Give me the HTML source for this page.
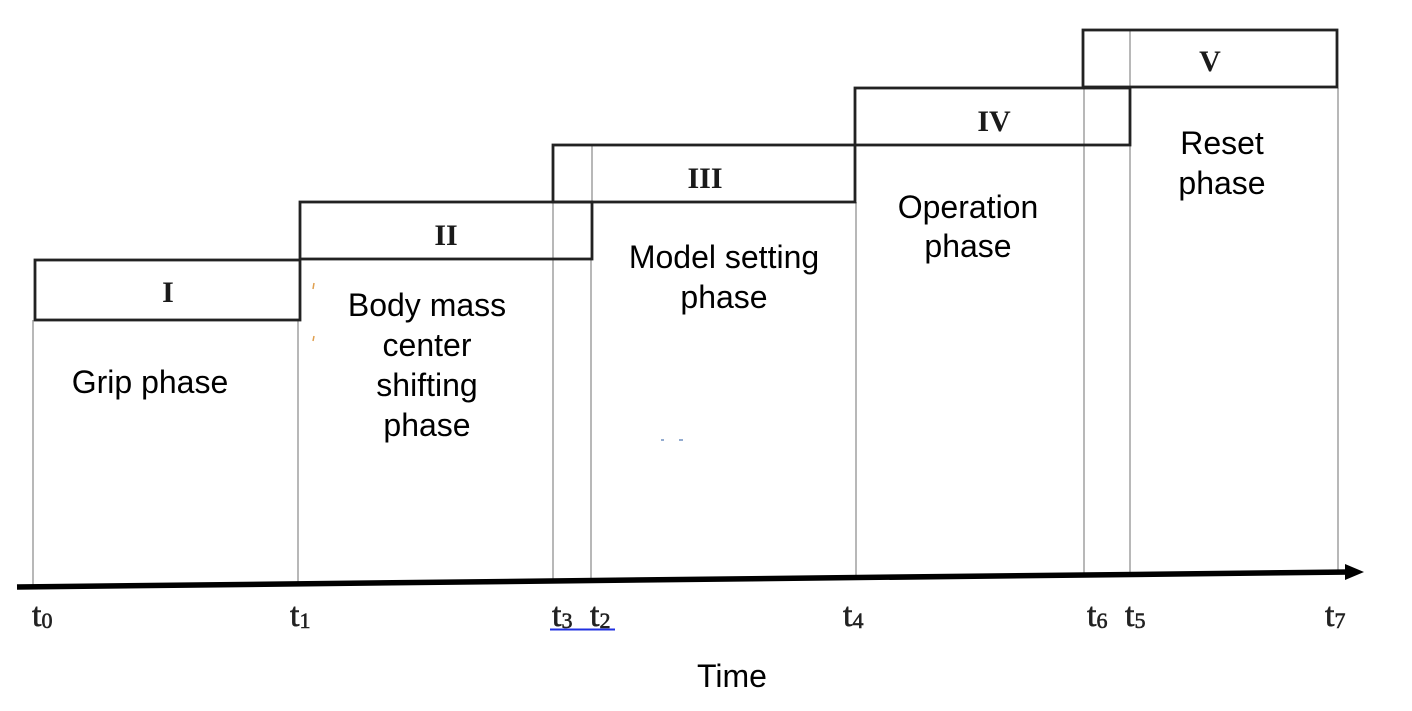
<!DOCTYPE html>
<html>
<head>
<meta charset="utf-8">
<style>
  html,body{margin:0;padding:0;background:#fff;}
  svg{display:block;}
  .sans{font-family:"Liberation Sans",Arial,sans-serif;font-size:32px;fill:#000;}
  .rom{font-family:"Liberation Serif","Times New Roman",serif;font-size:30px;font-weight:bold;fill:#1a1a1a;}
  .tl{font-family:"Liberation Serif","Times New Roman",serif;font-size:34px;fill:#222;stroke:#222;stroke-width:0.6;}
  .sub{font-size:22px;}
</style>
</head>
<body>
<svg width="1412" height="711" viewBox="0 0 1412 711" xmlns="http://www.w3.org/2000/svg">
  <rect width="1412" height="711" fill="#fff"/>

  <!-- grey vertical guide lines -->
  <g stroke="#b8b8b8" stroke-width="2" fill="none">
    <line x1="33" y1="320" x2="33" y2="587"/>
    <line x1="298" y1="320" x2="298" y2="584"/>
    <line x1="553" y1="202" x2="553" y2="579"/>
    <line x1="592" y1="145" x2="592" y2="202"/>
    <line x1="591" y1="259" x2="591" y2="578"/>
    <line x1="856" y1="202" x2="856" y2="576"/>
    <line x1="1084" y1="88" x2="1084" y2="574"/>
    <line x1="1130" y1="30" x2="1130" y2="88"/>
    <line x1="1130" y1="145" x2="1130" y2="573"/>
    <line x1="1338" y1="88" x2="1338" y2="572"/>
  </g>

  <!-- phase boxes -->
  <g stroke="#222" stroke-width="2.8" fill="none">
    <rect x="35" y="260" width="265" height="60"/>
    <rect x="300" y="202" width="292" height="57"/>
    <rect x="553" y="145" width="302" height="57"/>
    <rect x="855" y="88" width="275" height="57"/>
    <rect x="1083" y="30" width="254" height="57"/>
  </g>

  <!-- roman numerals -->
  <text class="rom" x="168" y="302" text-anchor="middle">I</text>
  <text class="rom" x="446" y="245" text-anchor="middle">II</text>
  <text class="rom" x="705" y="188" text-anchor="middle">III</text>
  <text class="rom" x="994" y="131" text-anchor="middle">IV</text>
  <text class="rom" x="1210" y="71" text-anchor="middle">V</text>

  <!-- phase labels -->
  <text class="sans" x="150" y="393" text-anchor="middle">Grip phase</text>
  <text class="sans" x="427" y="316" text-anchor="middle">Body mass</text>
  <text class="sans" x="427" y="356" text-anchor="middle">center</text>
  <text class="sans" x="427" y="396" text-anchor="middle">shifting</text>
  <text class="sans" x="427" y="436" text-anchor="middle">phase</text>
  <text class="sans" x="724" y="268" text-anchor="middle">Model setting</text>
  <text class="sans" x="724" y="308" text-anchor="middle">phase</text>
  <text class="sans" x="968" y="218" text-anchor="middle">Operation</text>
  <text class="sans" x="968" y="257" text-anchor="middle">phase</text>
  <text class="sans" x="1222" y="154" text-anchor="middle">Reset</text>
  <text class="sans" x="1222" y="194" text-anchor="middle">phase</text>

  <!-- small artifacts -->
  <line x1="314" y1="283" x2="313" y2="289" stroke="#e0a050" stroke-width="1.5"/>
  <line x1="314" y1="336" x2="313" y2="341" stroke="#e0a050" stroke-width="1.5"/>
  <line x1="661" y1="440" x2="664" y2="440" stroke="#7090c0" stroke-width="1.5"/>
  <line x1="679" y1="440" x2="683" y2="440" stroke="#7090c0" stroke-width="1.5"/>

  <!-- time axis -->
  <line x1="17" y1="587" x2="1350" y2="572" stroke="#000" stroke-width="5.5"/>
  <polygon points="1345,564 1364,572 1345,580" fill="#000"/>

  <!-- tick labels -->
  <text class="tl" x="32" y="626">t<tspan class="sub" dy="2">0</tspan></text>
  <text class="tl" x="290" y="626">t<tspan class="sub" dy="2">1</tspan></text>
  <text class="tl" x="552" y="626">t<tspan class="sub" dy="2">3</tspan></text>
  <text class="tl" x="590" y="626">t<tspan class="sub" dy="2">2</tspan></text>
  <line x1="550" y1="629.5" x2="615" y2="629.5" stroke="#2030e0" stroke-width="2"/>
  <text class="tl" x="843" y="626">t<tspan class="sub" dy="2">4</tspan></text>
  <text class="tl" x="1087" y="626">t<tspan class="sub" dy="2">6</tspan></text>
  <text class="tl" x="1125" y="626">t<tspan class="sub" dy="2">5</tspan></text>
  <text class="tl" x="1325" y="626">t<tspan class="sub" dy="2">7</tspan></text>

  <text class="sans" x="732" y="687" text-anchor="middle">Time</text>
</svg>
</body>
</html>
